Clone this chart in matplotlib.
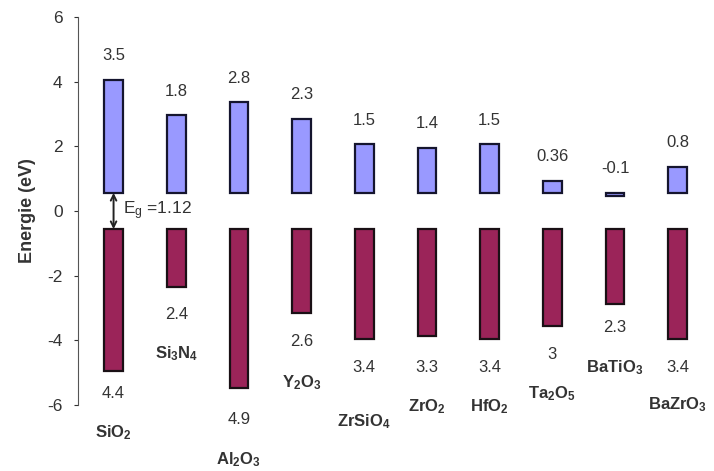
import numpy as np
import matplotlib.pyplot as plt

plt.rcParams['font.family'] = ['Liberation Sans', 'DejaVu Sans']
plt.rcParams['mathtext.default'] = 'regular'
plt.rcParams['axes.unicode_minus'] = False

# Band offsets relative to Si (eV)
materials = ['SiO$_2$', 'Si$_3$N$_4$', 'Al$_2$O$_3$', 'Y$_2$O$_3$', 'ZrSiO$_4$',
             'ZrO$_2$', 'HfO$_2$', 'Ta$_2$O$_5$', 'BaTiO$_3$', 'BaZrO$_3$']
# bar heights as drawn (Si3N4 bars are drawn swapped in the original)
cb_bar = [3.5, 2.4, 2.8, 2.3, 1.5, 1.4, 1.5, 0.36, -0.1, 0.8]
vb_bar = [4.4, 1.8, 4.9, 2.6, 3.4, 3.3, 3.4, 3.0, 2.3, 3.4]
cb_text = ['3.5', '1.8', '2.8', '2.3', '1.5', '1.4', '1.5', '0.36', '-0.1', '0.8']
vb_text = ['4.4', '2.4', '4.9', '2.6', '3.4', '3.3', '3.4', '3', '2.3', '3.4']
eg_si = 1.12

# label placement
name_y = [-6.85, -4.4, -7.7, -5.3, -6.5, -6.05, -6.05, -5.65, -4.85, -6.0]
vb_lab_y = [-5.65, -3.2, -6.45, -4.05, -4.85, -4.85, -4.85, -4.45, -3.6, -4.85]

half = eg_si / 2
x = np.arange(len(materials))

fig = plt.figure(figsize=(7.14, 4.71), dpi=100)
ax = fig.add_axes([0.109, 0.140, 0.885, 0.824])

ax.bar(x, cb_bar, bottom=half, width=0.3, color='#9999FF',
       edgecolor='#15152e', linewidth=1.6)
ax.bar(x, -np.array(vb_bar), bottom=-half, width=0.3, color='#9B2459',
       edgecolor='#1a1015', linewidth=1.6)

for i in range(len(materials)):
    top = half + max(cb_bar[i], 0)
    ax.text(x[i], top + 0.75, cb_text[i], ha='center', va='center',
            fontsize=12, color='#333333')
    ax.text(x[i], vb_lab_y[i], vb_text[i], ha='center', va='center',
            fontsize=12, color='#333333', clip_on=False)
    ax.text(x[i], name_y[i], materials[i], ha='center', va='center',
            fontsize=12, fontweight='bold', color='#333333', clip_on=False)

# band gap arrow
ax.annotate('', xy=(0, half), xytext=(0, -half),
            arrowprops=dict(arrowstyle='<->', color='#222222', lw=1.4,
                            shrinkA=0, shrinkB=0))
ax.text(0.15, 0.0, 'E$_g$ =1.12', ha='left', va='center', fontsize=12.5,
        color='#333333')

ax.set_xlim(-0.57, 9.51)
ax.set_ylim(-6, 6)
ax.set_yticks([-6, -4, -2, 0, 2, 4, 6])
ax.set_xticks([])
for s in ['top', 'right', 'bottom']:
    ax.spines[s].set_visible(False)
ax.spines['left'].set_color('#555555')
ax.tick_params(axis='y', labelsize=12.5, colors='#333333', length=3,
               direction='out', pad=8)
ax.set_ylabel('Energie (eV)', fontsize=13, fontweight='bold', color='#333333',
              labelpad=8)

fig.savefig('out.png', dpi=100)
